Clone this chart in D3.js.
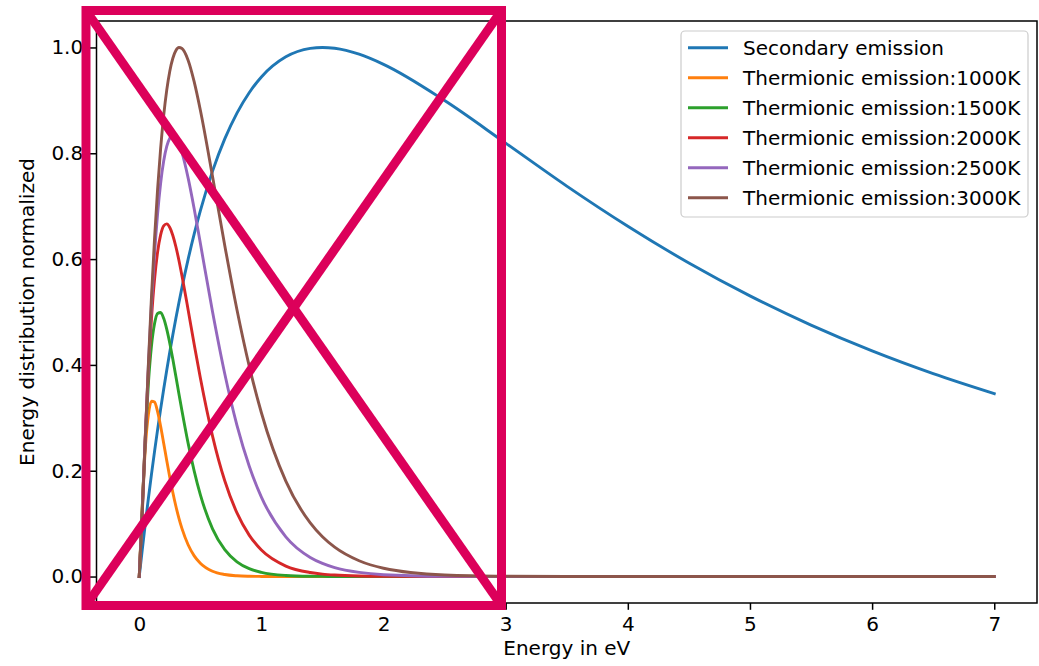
<!DOCTYPE html>
<html>
<head>
<meta charset="utf-8">
<script src="https://cdn.jsdelivr.net/npm/d3@7"></script>
<style>
  html, body { margin: 0; padding: 0; background: #fff; }
  svg { display: block; font-family: "DejaVu Sans", sans-serif; }
</style>
</head>
<body>
<svg id="chart" width="1039" height="666"></svg>
<script>
// Energy grid (eV) shared by every curve
const energy = [0, 0.025, 0.05, 0.075, 0.1, 0.125, 0.15, 0.175, 0.2, 0.225, 0.25, 0.275, 0.3, 0.325,
  0.35, 0.4, 0.45, 0.5, 0.6, 0.7, 0.8, 0.9, 1.0, 1.2, 1.4, 1.5, 1.6, 1.8, 2.0, 2.5, 3.0,
  3.5, 4.0, 4.5, 5.0, 5.5, 6.0, 6.5, 7.0];

const secondary = [0, 0.0515, 0.1008, 0.1479, 0.193, 0.236, 0.2772, 0.3165, 0.3541, 0.39, 0.4243, 0.457, 0.4883, 0.5181,
  0.5465, 0.5995, 0.6476, 0.6912, 0.7663, 0.8272, 0.876, 0.9145, 0.9442, 0.9822, 0.9983, 1.0, 0.9984, 0.9872, 0.968, 0.8996, 0.8192,
  0.738, 0.6621, 0.5926, 0.5304, 0.4752, 0.4265, 0.3836, 0.3458];

const thermo1000 = [0, 0.1342, 0.2437, 0.3064, 0.3314, 0.3298, 0.3116, 0.284, 0.2521, 0.2193, 0.1878, 0.1588, 0.1328, 0.11,
  0.0905, 0.0601, 0.0391, 0.0251, 0.0099, 0.0038, 0.0014, 0.0005, 0.0002, 0, 0, 0, 0, 0, 0, 0, 0,
  0, 0, 0, 0, 0, 0, 0, 0];

const thermo1500 = [0, 0.132, 0.2641, 0.3656, 0.4355, 0.4776, 0.4971, 0.499, 0.488, 0.4675, 0.441, 0.4106, 0.3782, 0.3452,
  0.313, 0.2522, 0.1992, 0.1548, 0.0902, 0.0507, 0.0278, 0.0149, 0.0079, 0.0021, 0.0005, 0.0003, 0.0001, 0, 0, 0, 0,
  0, 0, 0, 0, 0, 0, 0, 0];

const thermo2000 = [0, 0.1277, 0.2683, 0.39, 0.4875, 0.5611, 0.6129, 0.6457, 0.6627, 0.6665, 0.6597, 0.6447, 0.6233, 0.5974,
  0.5681, 0.5042, 0.4387, 0.3756, 0.2655, 0.181, 0.1202, 0.0783, 0.0501, 0.0198, 0.0076, 0.0046, 0.0028, 0.001, 0.0004, 0, 0,
  0, 0, 0, 0, 0, 0, 0, 0];

const thermo2500 = [0, 0.1237, 0.2671, 0.3998, 0.5143, 0.6093, 0.6852, 0.7433, 0.7853, 0.8129, 0.8284, 0.8333, 0.8295, 0.8182,
  0.8011, 0.7534, 0.6947, 0.6302, 0.5003, 0.3832, 0.2858, 0.2091, 0.1502, 0.075, 0.0361, 0.0248, 0.0169, 0.0078, 0.0035, 0.0005, 0.0001,
  0, 0, 0, 0, 0, 0, 0, 0];

const thermo3000 = [0, 0.1197, 0.2639, 0.4025, 0.5281, 0.6379, 0.7312, 0.8086, 0.871, 0.9193, 0.9552, 0.9796, 0.9941, 0.9998,
  0.998, 0.9759, 0.9349, 0.8819, 0.7563, 0.6259, 0.5044, 0.3983, 0.3096, 0.1803, 0.1014, 0.0752, 0.0555, 0.0298, 0.0157, 0.003, 0.0006,
  0.0001, 0, 0, 0, 0, 0, 0, 0];

const seriesNames = ["Secondary emission", "Thermionic emission:1000K", "Thermionic emission:1500K",
  "Thermionic emission:2000K", "Thermionic emission:2500K", "Thermionic emission:3000K"];
const seriesValues = [secondary, thermo1000, thermo1500, thermo2000, thermo2500, thermo3000];
const colors = ["#1f77b4", "#ff7f0e", "#2ca02c", "#d62728", "#9467bd", "#8c564b"];

const xTicks = [0, 1, 2, 3, 4, 5, 6, 7];
const yTicks = [0.0, 0.2, 0.4, 0.6, 0.8, 1.0];
const xTitle = "Energy in eV";
const yTitle = "Energy distribution normalized";

// Plot frame
const frame = { left: 96.5, right: 1037, top: 21, bottom: 603 };
const fontSize = 20;

const svg = d3.select("#chart");
const x = d3.scaleLinear().domain([-0.35, 7.35]).range([frame.left, frame.right]);
const y = d3.scaleLinear().domain([-0.05, 1.05]).range([frame.bottom, frame.top]);

// Curves
const line = d3.line()
  .x(d => x(d[0]))
  .y(d => y(d[1]))
  .curve(d3.curveMonotoneX);

const plot = svg.append("g");
seriesValues.forEach((vals, i) => {
  plot.append("path")
    .datum(energy.map((e, j) => [e, vals[j]]))
    .attr("d", line)
    .attr("fill", "none")
    .attr("stroke", colors[i])
    .attr("stroke-width", 2.9)
    .attr("stroke-linejoin", "round")
    .attr("stroke-linecap", "square");
});

// Axes
const xAxis = d3.axisBottom(x).tickValues(xTicks).tickFormat(d3.format("d"))
  .tickSizeInner(6.8).tickSizeOuter(0).tickPadding(6.5);
const yAxis = d3.axisLeft(y).tickValues(yTicks).tickFormat(d3.format(".1f"))
  .tickSizeInner(6.8).tickSizeOuter(0).tickPadding(6.5);

const gx = svg.append("g").attr("transform", `translate(0,${frame.bottom})`).call(xAxis);
const gy = svg.append("g").attr("transform", `translate(${frame.left},0)`).call(yAxis);
[gx, gy].forEach(g => {
  g.select(".domain").remove();
  g.selectAll(".tick line").attr("stroke", "#000").attr("stroke-width", 1.5);
  g.selectAll(".tick text").attr("fill", "#000").attr("font-size", fontSize)
    .attr("font-family", "DejaVu Sans");
});

// Spines
svg.append("rect")
  .attr("x", frame.left).attr("y", frame.top)
  .attr("width", frame.right - frame.left).attr("height", frame.bottom - frame.top)
  .attr("fill", "none").attr("stroke", "#000").attr("stroke-width", 1.5);

// Axis titles
svg.append("text")
  .attr("x", (frame.left + frame.right) / 2).attr("y", 655)
  .attr("text-anchor", "middle").attr("font-size", fontSize).attr("fill", "#000")
  .text(xTitle);
svg.append("text")
  .attr("transform", `translate(34,${(frame.top + frame.bottom) / 2}) rotate(-90)`)
  .attr("text-anchor", "middle").attr("font-size", fontSize).attr("fill", "#000")
  .text(yTitle);

// Legend
const legend = svg.append("g");
legend.append("rect")
  .attr("x", 681).attr("y", 31).attr("width", 347).attr("height", 186)
  .attr("rx", 4).attr("ry", 4)
  .attr("fill", "#fff").attr("fill-opacity", 0.8)
  .attr("stroke", "#cccccc").attr("stroke-width", 1.2);
seriesNames.forEach((name, i) => {
  const cy = 47.7 + i * 30;
  legend.append("line")
    .attr("x1", 688).attr("x2", 728).attr("y1", cy).attr("y2", cy)
    .attr("stroke", colors[i]).attr("stroke-width", 2.9);
  legend.append("text")
    .attr("x", 743).attr("y", cy).attr("dy", "0.35em")
    .attr("font-size", fontSize).attr("fill", "#000")
    .text(name);
});

// Crossed-out box drawn over the left part of the plot
const box = { x0: 86, y0: 10.5, x1: 501.5, y1: 605.5 };
const mark = svg.append("g")
  .attr("stroke", "#dc005a").attr("stroke-width", 9).attr("fill", "none");
mark.append("rect")
  .attr("x", box.x0).attr("y", box.y0)
  .attr("width", box.x1 - box.x0).attr("height", box.y1 - box.y0);
mark.append("line")
  .attr("x1", box.x0).attr("y1", box.y0).attr("x2", box.x1).attr("y2", box.y1);
mark.append("line")
  .attr("x1", box.x0).attr("y1", box.y1).attr("x2", box.x1).attr("y2", box.y0);
</script>
</body>
</html>
